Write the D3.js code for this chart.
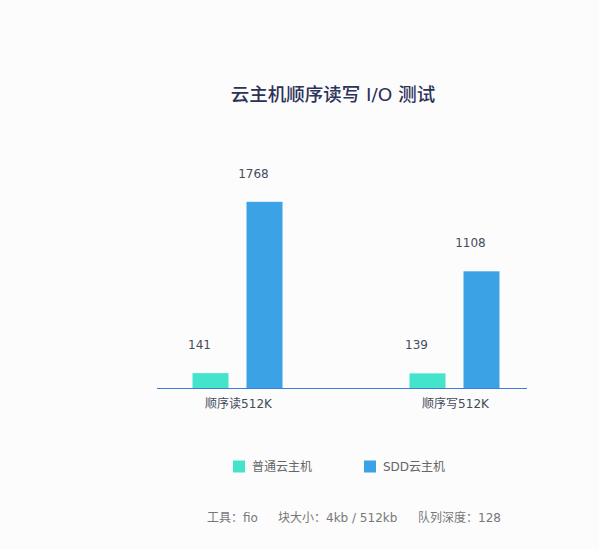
<!DOCTYPE html>
<html><head><meta charset="utf-8">
<script src="https://cdn.jsdelivr.net/npm/d3@7"></script>
<style>
html,body{margin:0;padding:0;background:#fcfcfd;}
text{font-family:"DejaVu Sans","Noto Sans CJK SC",sans-serif;}
</style></head>
<body>
<svg id="c" width="599" height="549"></svg>
<script>
const categories = ["顺序读512K", "顺序写512K"];
const seriesNames = ["普通云主机", "SDD云主机"];
const normalValues = [141, 139];
const ssdValues = [1768, 1108];
const titleText = "云主机顺序读写 I/O 测试";
const footerParts = ["工具：fio", "块大小：4kb / 512kb", "队列深度：128"];

const colors = ["#44e3cb", "#3aa2e5"];
const svg = d3.select("#c");
svg.append("rect").attr("width",599).attr("height",549).attr("fill","#fcfcfd");

const baseY = 388, topY = 177.4;
const y = d3.scaleLinear().domain([0, 2000]).range([baseY, topY]);
const x0 = d3.scaleBand().domain(categories).range([129, 563]);
const x1 = d3.scaleBand().domain(seriesNames).range([-45, 45]).paddingInner(1/3);

const data = categories.map((c,i)=>({cat:c, vals:[normalValues[i], ssdValues[i]]}));

svg.append("text").attr("x",333).attr("y",101).attr("text-anchor","middle")
  .attr("font-size",18.5).attr("font-weight",500).attr("fill","#2d3258").text(titleText);

const g = svg.selectAll("g.grp").data(data).join("g").attr("class","grp")
  .attr("transform", d=>`translate(${x0(d.cat)+x0.bandwidth()/2},0)`);

g.selectAll("rect").data(d=>d.vals.map((v,j)=>({v, s:seriesNames[j], j})))
  .join("rect")
  .attr("x", d=>x1(d.s)).attr("width", x1.bandwidth())
  .attr("y", d=>y(d.v)).attr("height", d=>baseY - y(d.v))
  .attr("fill", d=>colors[d.j]);

g.selectAll("text.val").data(d=>d.vals.map((v,j)=>({v, s:seriesNames[j], j})))
  .join("text").attr("class","val")
  .attr("x", d=>x1(d.s)+x1.bandwidth()/2-11)
  .attr("y", d=>y(d.v)-24)
  .attr("text-anchor","middle").attr("font-size",12).attr("fill","#4a4a5c")
  .text(d=>d.v);

// axis
svg.append("line").attr("x1",157).attr("x2",527).attr("y1",baseY+0.5).attr("y2",baseY+0.5)
  .attr("stroke","#3b7ddd").attr("stroke-width",1.2);
svg.selectAll("text.cat").data(categories).join("text").attr("class","cat")
  .attr("x", d=>x0(d)+x0.bandwidth()/2+1).attr("y",408)
  .attr("text-anchor","middle").attr("font-size",12).attr("fill","#444a5a").text(d=>d);

// legend
const legX = [233, 364];
const lg = svg.selectAll("g.leg").data(seriesNames).join("g").attr("class","leg")
  .attr("transform",(d,i)=>`translate(${legX[i]},460.5)`);
lg.append("rect").attr("width",12).attr("height",12).attr("fill",(d,i)=>colors[i]);
lg.append("text").attr("x",19).attr("y",10.5).attr("font-size",12).attr("fill","#666").text(d=>d);

const footX = [207, 278, 418];
svg.selectAll("text.foot").data(footerParts).join("text").attr("class","foot")
  .attr("x",(d,i)=>footX[i]).attr("y",522).attr("font-size",12).attr("fill","#777").text(d=>d);
</script>
</body></html>
